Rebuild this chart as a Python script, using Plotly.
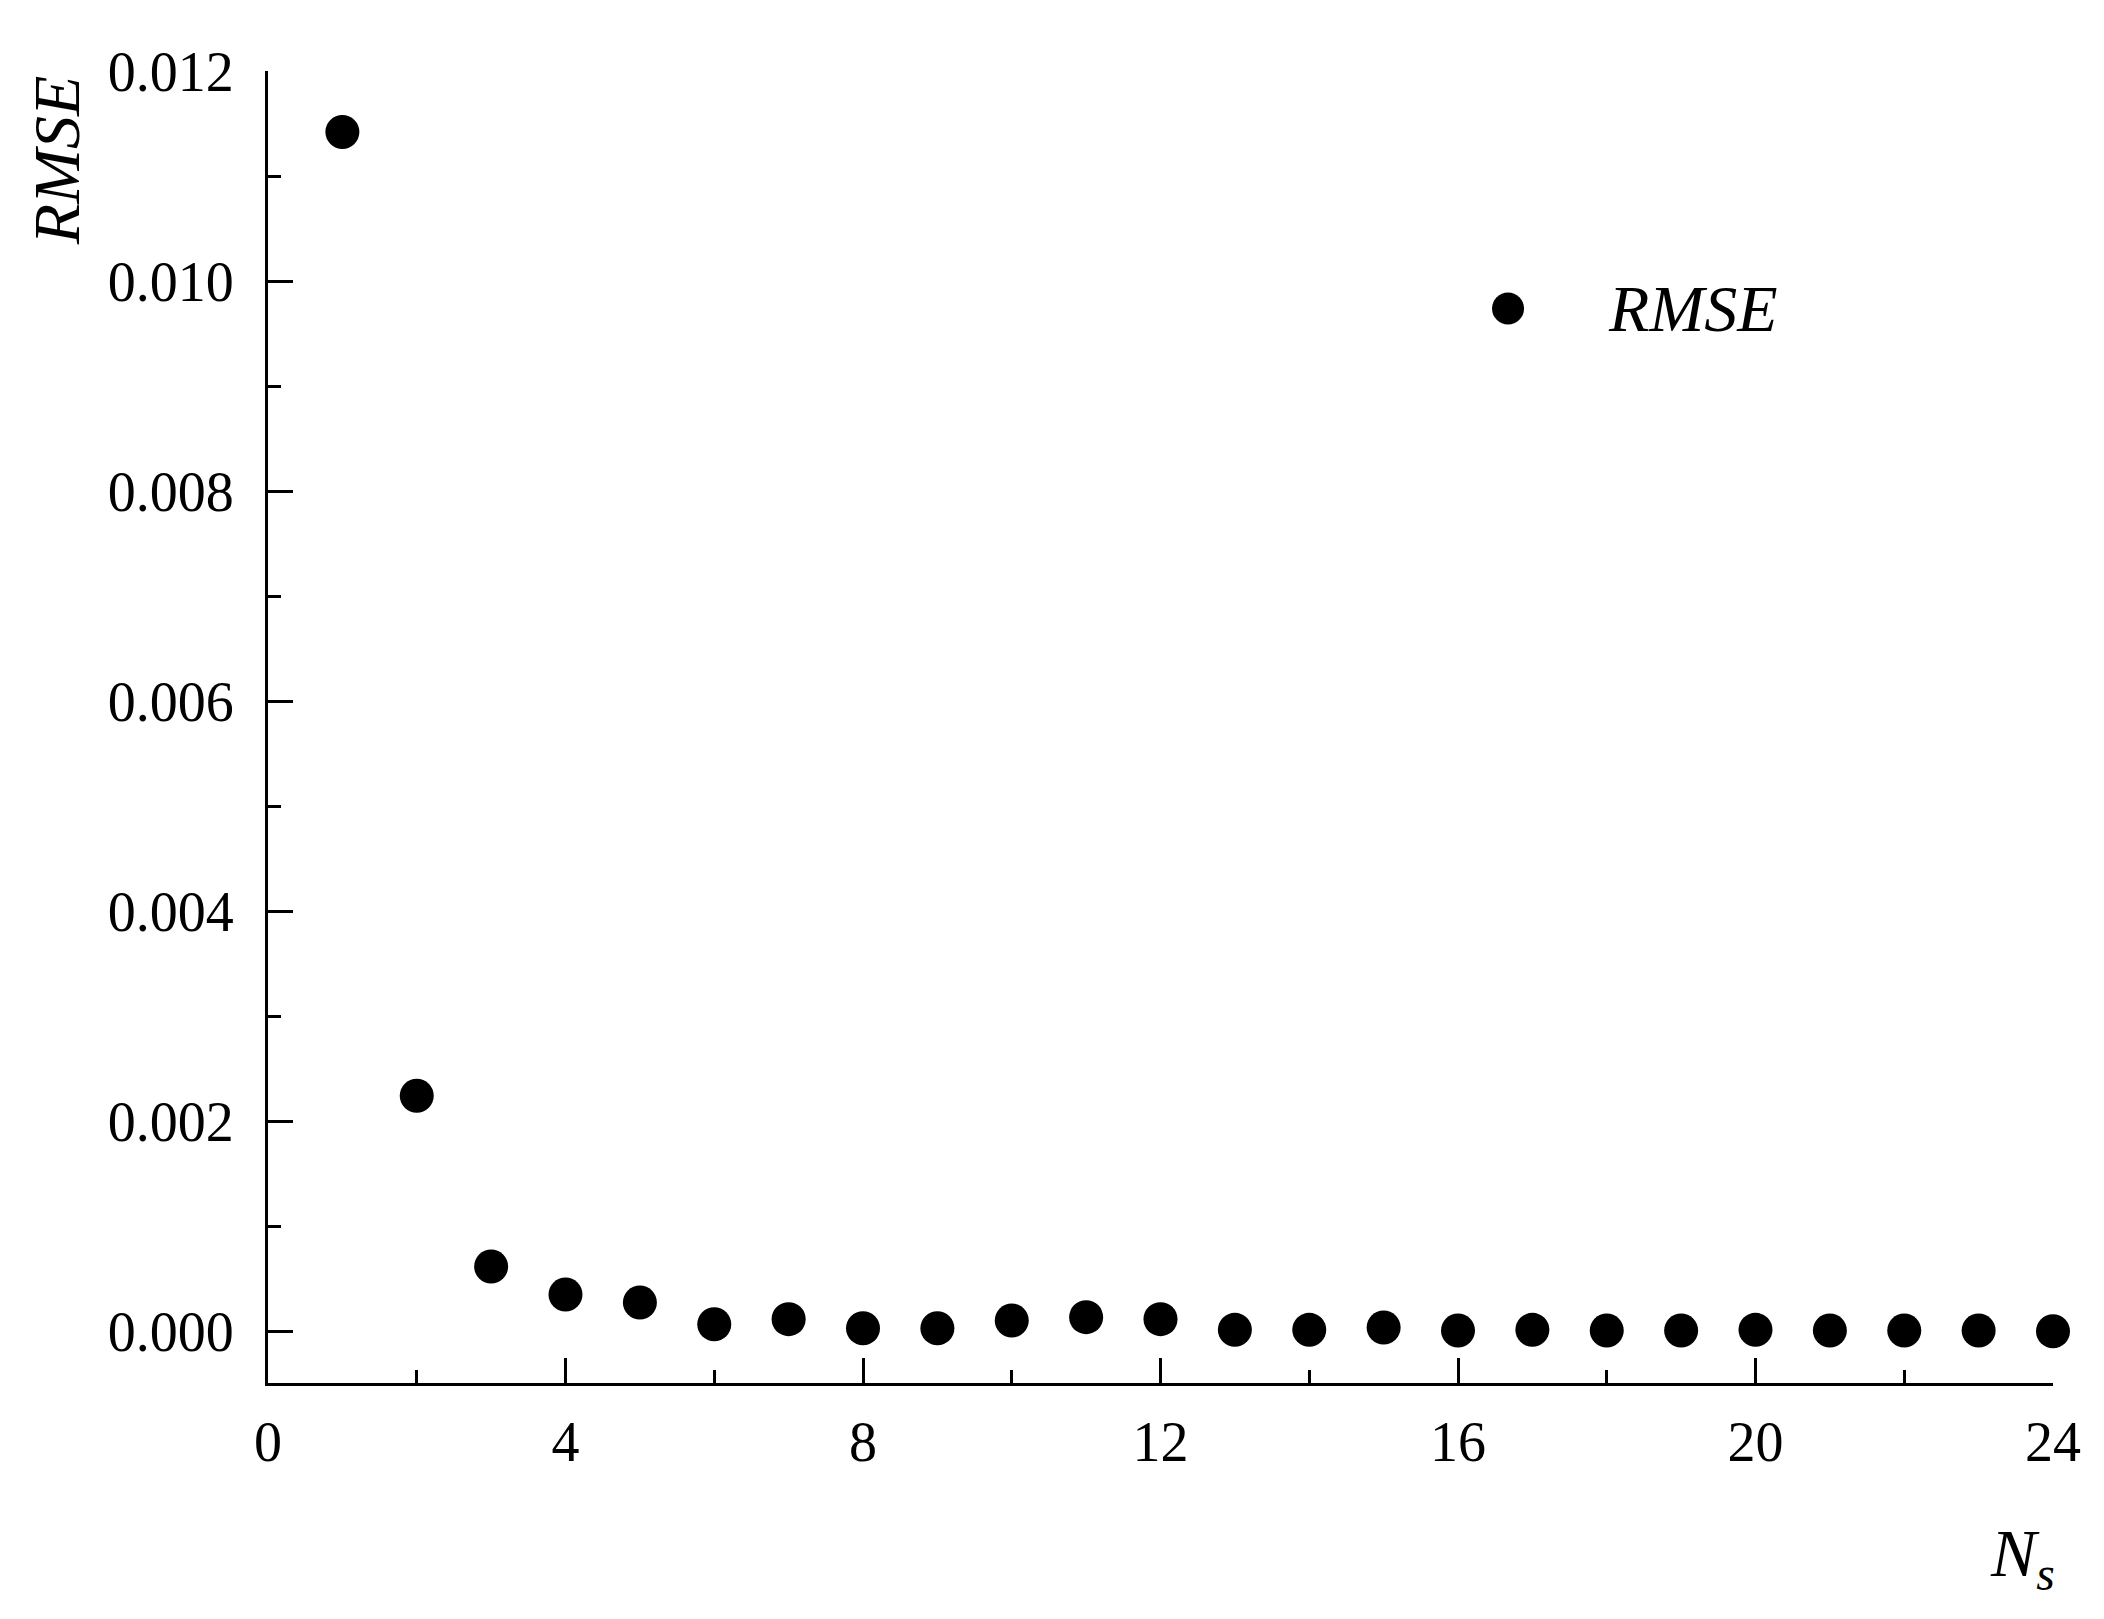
import plotly.graph_objects as go

# number of sub-intervals Ns and the resulting RMSE
ns = list(range(1, 25))
rmse = [0.011419, 0.002245, 0.000619, 0.000352, 0.000276, 0.000070,
        0.000118, 0.000032, 0.000032, 0.000105, 0.000137, 0.000118,
        0.000016, 0.000016, 0.000038, 0.000010, 0.000016, 0.000010,
        0.000010, 0.000016, 0.000010, 0.000010, 0.000010, 0.000002]

serif = "Liberation Serif, Times New Roman, serif"

fig = go.Figure()
fig.add_trace(go.Scatter(
    x=ns, y=rmse, mode="markers", name="RMSE",
    marker=dict(color="black", size=34, symbol="circle"),
    showlegend=False, cliponaxis=False,
))

axis_common = dict(
    showline=True, linecolor="black", linewidth=3,
    ticks="inside", ticklen=25, tickwidth=3, tickcolor="black",
    showgrid=False, zeroline=False,
    tickfont=dict(family=serif, size=56, color="black"),
)

fig.update_xaxes(
    range=[0, 24], tickmode="linear", tick0=0, dtick=4,
    minor=dict(ticks="inside", ticklen=13, tickwidth=3, tickcolor="black", dtick=2),
    ticklabelstandoff=8,
    **axis_common,
)
fig.update_yaxes(
    range=[-0.00049, 0.012], tickmode="linear", tick0=0, dtick=0.002,
    tickformat=".3f",
    minor=dict(ticks="inside", ticklen=13, tickwidth=3, tickcolor="black", dtick=0.001),
    ticklabelstandoff=20,
    **axis_common,
)

# axis titles
fig.add_annotation(text="<i>RMSE</i>", textangle=-90, xref="paper", yref="paper",
                   x=-0.1187, y=0.932, xanchor="center", yanchor="middle",
                   showarrow=False, font=dict(family=serif, size=66, color="black"))
fig.add_annotation(text="<i>N</i><sub><i>s</i></sub>", xref="paper", yref="paper",
                   x=0.9636, y=-0.133, xanchor="left", yanchor="middle",
                   showarrow=False, font=dict(family=serif, size=68, color="black"))

# legend drawn by hand so the symbol keeps its size
fig.add_shape(type="circle", xref="paper", yref="paper",
              xsizemode="pixel", ysizemode="pixel",
              xanchor=0.6947, yanchor=0.819, x0=-16, x1=16, y0=-16, y1=16,
              fillcolor="black", line=dict(color="black", width=0))
fig.add_annotation(text="<i>RMSE</i>", xref="paper", yref="paper",
                   x=0.7496, y=0.819, xanchor="left", yanchor="middle",
                   showarrow=False, font=dict(family=serif, size=66, color="black"))

# the page body adds an 8px offset, so margins are shifted to compensate
fig.update_layout(
    width=2104, height=1619,
    margin=dict(l=260, r=59, t=63, b=244),
    plot_bgcolor="white", paper_bgcolor="white",
    showlegend=False,
)

fig.write_html("out.html")
